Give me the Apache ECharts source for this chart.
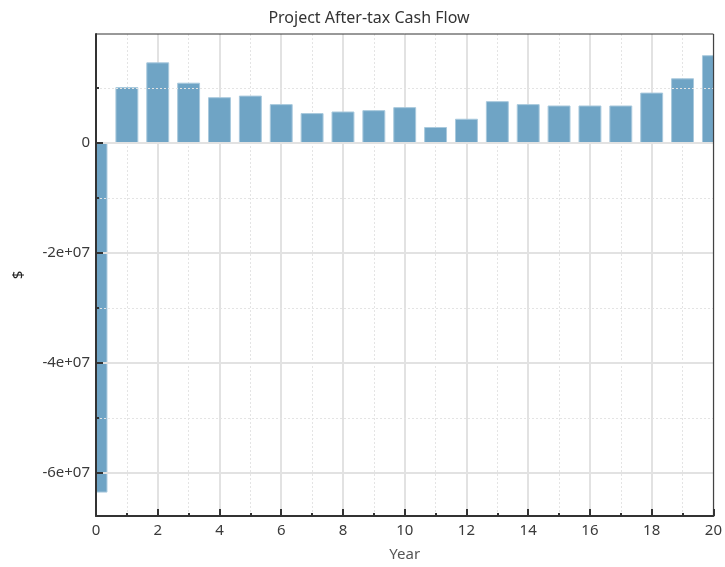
<!DOCTYPE html>
<html><head><meta charset="utf-8">
<script src="https://cdn.jsdelivr.net/npm/echarts@6/dist/echarts.min.js"></script>
<style>html,body{margin:0;padding:0;background:#fff}#c{width:725px;height:567px}</style>
</head><body><div id="c"></div>
<script>
const years = [0,1,2,3,4,5,6,7,8,9,10,11,12,13,14,15,16,17,18,19,20];
const cashFlow = [-6.35e7,1.01e7,1.46e7,1.09e7,0.826e7,0.855e7,0.70e7,0.537e7,0.566e7,0.59e7,0.645e7,0.284e7,0.434e7,0.754e7,0.70e7,0.675e7,0.675e7,0.675e7,0.91e7,1.17e7,1.59e7];
const yMajorValues = [-6e7,-4e7,-2e7,0];
const yMinorValues = [-5e7,-3e7,-1e7,1e7];
const titleText = 'Project After-tax Cash Flow';
const xName = 'Year';
const yName = '$';

const FONT = 'Noto Sans';
const yMin = -6.785e7, yMax = 1.985e7;
const BAR_FRACTION = 0.71;
const fmtY = v => v === 0 ? '0' : (v/1e7) + 'e+07';

function renderBar(params, api) {
  const x = api.value(0), y = api.value(1);
  const p0 = api.coord([x, 0]);
  const p1 = api.coord([x, y]);
  const w = api.size([1, 0])[0] * BAR_FRACTION;
  const cs = params.coordSys;
  const rect = echarts.graphic.clipRectByRect(
    {x: p0[0] - w / 2, y: Math.min(p0[1], p1[1]), width: w, height: Math.abs(p1[1] - p0[1])},
    {x: cs.x, y: cs.y, width: cs.width, height: cs.height});
  return rect && {type: 'rect', shape: rect, style: {fill: '#6fa4c5', stroke: '#a9c9dd', lineWidth: 1}};
}

const chart = echarts.init(document.getElementById('c'));
chart.setOption({
  animation:false,
  backgroundColor:'#fff',
  title:{text:titleText,left:364,top:5,textAlign:'center',textStyle:{fontFamily:FONT,fontSize:16,fontWeight:'normal',color:'#333'}},
  grid:{left:96,right:9,top:34,bottom:48,show:true,z:10,borderColor:'#333',borderWidth:1,backgroundColor:'transparent'},
  xAxis:[{type:'value',min:0,max:20,interval:2,z:0,
    axisLine:{show:false,onZero:false},axisTick:{show:false},axisLabel:{show:false},
    minorTick:{show:false,splitNumber:2},
    splitLine:{show:true,lineStyle:{color:'#e2e2e2',width:2}},
    minorSplitLine:{show:true,lineStyle:{color:'#e4e4e4',width:1,type:[2,2]}}
  },{type:'value',min:0,max:20,interval:2,position:'bottom',z:10,name:xName,nameLocation:'middle',nameGap:31,
    nameTextStyle:{fontFamily:FONT,fontSize:15,color:'#555'},
    axisLine:{show:true,onZero:false,lineStyle:{color:'#333',width:2}},
    axisTick:{show:true,inside:true,length:7,lineStyle:{color:'#333',width:2}},
    minorTick:{show:true,splitNumber:2,length:3,lineStyle:{color:'#333',width:2}},
    axisLabel:{fontFamily:FONT,fontSize:15,color:'#3a3a3a',margin:7},
    splitLine:{show:false},minorSplitLine:{show:false}
  }],
  yAxis:[{type:'value',min:yMin,max:yMax,z:10,name:yName,nameLocation:'middle',nameGap:70,nameRotate:90,
    nameTextStyle:{fontFamily:FONT,fontSize:15,color:'#222'},
    axisLine:{show:true,onZero:false,lineStyle:{color:'#333',width:2}},
    axisTick:{show:true,inside:true,length:7,customValues:yMajorValues,lineStyle:{color:'#333',width:2}},
    axisLabel:{fontFamily:FONT,fontSize:15,color:'#3a3a3a',margin:6,customValues:yMajorValues,formatter:fmtY},
    splitLine:{show:false}
  },{type:'value',min:yMin,max:yMax,position:'left',z:10,
    axisLine:{show:false,onZero:false},
    axisTick:{show:true,inside:true,length:3,customValues:yMinorValues,lineStyle:{color:'#333',width:2}},
    axisLabel:{show:false,customValues:yMinorValues},
    splitLine:{show:false}
  }],
  series:[{
    type:'line',data:[],z:1,silent:true,
    markLine:{silent:true,symbol:'none',label:{show:false},animation:false,
      data:yMajorValues.map(v=>({yAxis:v,lineStyle:{color:'#e2e2e2',width:2,type:'solid'}}))
        .concat(yMinorValues.map(v=>({yAxis:v,lineStyle:{color:'#e4e4e4',width:1,type:[2,2]}})))}
  },{
    type:'custom',z:3,renderItem:renderBar,xAxisIndex:0,yAxisIndex:0,
    encode:{x:0,y:1},
    data:years.map((y,i)=>[y,cashFlow[i]])
  }]
});
</script></body></html>
